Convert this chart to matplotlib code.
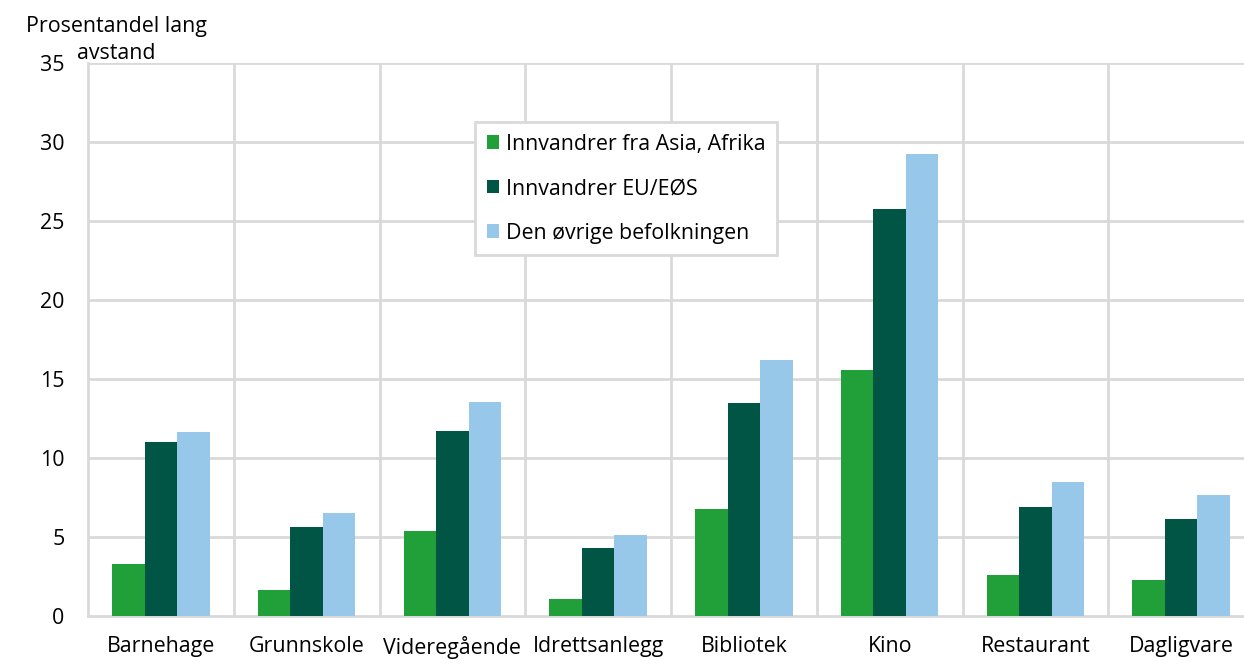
import matplotlib.pyplot as plt
import numpy as np

plt.rcParams['font.family'] = ['Open Sans', 'DejaVu Sans']

categories = ['Barnehage', 'Grunnskole', 'Videregående', 'Idrettsanlegg',
              'Bibliotek', 'Kino', 'Restaurant', 'Dagligvare']
series_names = ['Innvandrer fra Asia, Afrika', 'Innvandrer EU/EØS',
                'Den øvrige befolkningen']
asia_afrika = [3.3, 1.65, 5.4, 1.1, 6.8, 15.6, 2.6, 2.3]
eu_eos = [11.0, 5.65, 11.7, 4.3, 13.5, 25.75, 6.9, 6.15]
ovrige = [11.65, 6.5, 13.55, 5.15, 16.2, 29.25, 8.5, 7.65]
colors = ['#21a03a', '#005545', '#97c8ea']

fs = 15.4
fig = plt.figure(figsize=(12.44, 6.66), dpi=100)
# the right edge of the chart runs slightly past the image
ax = fig.add_axes([88 / 1244, 50 / 666, 1166 / 1244, 553 / 666])

x = np.arange(len(categories))
w = 0.223
for i, (vals, name) in enumerate(zip([asia_afrika, eu_eos, ovrige], series_names)):
    ax.bar(x + (i - 1) * w, vals, w, color=colors[i], label=name, zorder=3)

grid_c = '#d9d9d9'
ax.set_xlim(-0.5, len(categories) - 0.5)
ax.set_ylim(0, 35)
ax.set_yticks(range(0, 36, 5))
ax.set_xticks(x)
ax.set_xticklabels(categories, fontsize=fs)
ax.tick_params(axis='y', labelsize=fs, length=0, pad=17)
ax.tick_params(axis='x', length=0, pad=14.5)
for yv in range(5, 36, 5):
    ax.axhline(yv, color=grid_c, lw=2, zorder=1)
for xv in np.arange(0.5, len(categories), 1):
    ax.axvline(xv, color=grid_c, lw=2, zorder=1)
for s in ['top', 'right']:
    ax.spines[s].set_visible(False)
for s in ['left', 'bottom']:
    ax.spines[s].set_color(grid_c)
    ax.spines[s].set_linewidth(2)

# axis title, two lines drawn separately so each keeps its own box
fig.text(116 / 1244, 1 - 32 / 666, 'Prosentandel lang', ha='center', va='baseline', fontsize=fs)
fig.text(116 / 1244, 1 - 59 / 666, 'avstand', ha='center', va='baseline', fontsize=fs)

leg = ax.legend(loc='upper left', bbox_to_anchor=(0.3226, 0.913), fontsize=fs,
                frameon=True, fancybox=False, handlelength=0.6, handleheight=0.6,
                handletextpad=0.3, labelspacing=1.1, borderpad=0.55)
leg.get_frame().set_edgecolor(grid_c)
leg.get_frame().set_linewidth(2)
leg.get_frame().set_alpha(1)

fig.savefig('out.png', dpi=100)
